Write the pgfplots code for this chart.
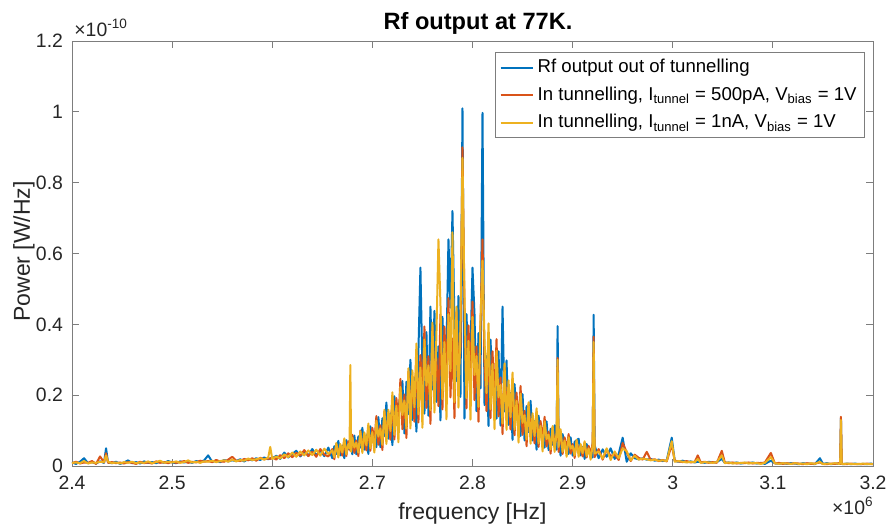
\documentclass[border=0pt]{standalone}
\usepackage{fontspec}
\setmainfont{Liberation Sans}
\usepackage{pgfplots}
\pgfplotsset{compat=1.18}
\usepackage{pgfplotstable}
\definecolor{mcolA}{rgb}{0,0.447,0.741}
\definecolor{mcolB}{rgb}{0.85,0.325,0.098}
\definecolor{mcolC}{rgb}{0.929,0.694,0.125}
\definecolor{axgray}{RGB}{125,125,125}
\definecolor{txt}{RGB}{38,38,38}

\pgfplotstableread{
x b r c
2.400 0.010 0.008 0.009
2.404 0.006 0.012 0.010
2.408 0.012 0.007 0.008
2.412 0.022 0.010 0.014
2.416 0.008 0.009 0.007
2.420 0.011 0.014 0.010
2.424 0.007 0.006 0.009
2.428 0.013 0.027 0.012
2.432 0.009 0.010 0.011
2.434 0.050 0.036 0.030
2.436 0.010 0.009 0.012
2.440 0.008 0.011 0.008
2.444 0.012 0.008 0.010
2.448 0.006 0.010 0.007
2.452 0.010 0.007 0.011
2.456 0.016 0.011 0.009
2.460 0.008 0.009 0.012
2.464 0.011 0.006 0.008
2.468 0.007 0.012 0.010
2.472 0.013 0.008 0.009
2.476 0.009 0.010 0.013
2.480 0.011 0.007 0.008
2.484 0.008 0.013 0.011
2.488 0.012 0.009 0.015
2.492 0.009 0.011 0.009
2.496 0.014 0.008 0.012
2.500 0.010 0.012 0.010
2.504 0.008 0.009 0.013
2.508 0.013 0.011 0.009
2.512 0.010 0.014 0.011
2.516 0.012 0.009 0.016
2.520 0.009 0.012 0.010
2.524 0.014 0.010 0.012
2.528 0.011 0.015 0.009
2.532 0.016 0.012 0.013
2.536 0.030 0.014 0.012
2.540 0.012 0.011 0.015
2.544 0.015 0.017 0.011
2.548 0.011 0.013 0.014
2.552 0.017 0.012 0.016
2.556 0.013 0.018 0.012
2.560 0.016 0.026 0.018
2.564 0.014 0.015 0.013
2.568 0.019 0.014 0.017
2.572 0.013 0.020 0.015
2.576 0.020 0.016 0.021
2.580 0.016 0.022 0.017
2.584 0.022 0.015 0.019
2.588 0.017 0.023 0.022
2.592 0.024 0.019 0.018
2.596 0.019 0.021 0.024
2.598 0.022 0.020 0.054
2.600 0.021 0.025 0.020
2.604 0.029 0.018 0.027
2.608 0.020 0.031 0.021
2.612 0.038 0.022 0.033
2.616 0.024 0.036 0.025
2.620 0.034 0.025 0.038
2.624 0.043 0.037 0.026
2.628 0.027 0.029 0.041
2.632 0.040 0.045 0.030
2.636 0.029 0.028 0.044
2.640 0.048 0.040 0.031
2.644 0.030 0.026 0.046
2.648 0.044 0.048 0.029
2.652 0.028 0.032 0.049
2.656 0.052 0.027 0.034
2.660 0.022 0.048 0.044
2.662 0.056 0.019 0.025
2.664 0.034 0.062 0.065
2.666 0.071 0.040 0.024
2.668 0.030 0.051 0.062
2.670 0.057 0.029 0.038
2.672 0.022 0.074 0.078
2.674 0.073 0.028 0.033
2.676 0.047 0.070 0.062
2.6772 0.050 0.060 0.050
2.678 0.059 0.043 0.285
2.6788 0.055 0.045 0.040
2.680 0.033 0.088 0.080
2.682 0.086 0.037 0.052
2.684 0.033 0.072 0.066
2.686 0.084 0.028 0.038
2.688 0.052 0.100 0.098
2.690 0.108 0.061 0.037
2.692 0.046 0.077 0.095
2.694 0.087 0.044 0.058
2.696 0.034 0.113 0.120
2.698 0.112 0.043 0.050
2.700 0.072 0.108 0.096
2.702 0.092 0.067 0.038
2.704 0.053 0.141 0.128
2.706 0.138 0.060 0.083
2.708 0.053 0.115 0.106
2.710 0.135 0.045 0.060
2.712 0.085 0.154 0.159
2.714 0.179 0.101 0.062
2.716 0.077 0.130 0.159
2.718 0.149 0.074 0.099
2.720 0.059 0.195 0.208
2.722 0.197 0.075 0.088
2.724 0.128 0.192 0.170
2.726 0.163 0.118 0.067
2.728 0.195 0.246 0.223
2.730 0.240 0.104 0.144
2.732 0.092 0.202 0.185
2.734 0.238 0.079 0.106
2.736 0.147 0.267 0.276
2.738 0.300 0.173 0.106
2.740 0.130 0.220 0.270
2.742 0.250 0.125 0.166
2.744 0.097 0.324 0.346
2.746 0.325 0.123 0.146
2.748 0.560 0.313 0.278
2.750 0.264 0.192 0.108
2.752 0.148 0.394 0.357
2.754 0.378 0.164 0.227
2.756 0.142 0.310 0.284
2.758 0.450 0.119 0.158
2.760 0.216 0.392 0.405
2.762 0.438 0.247 0.151
2.764 0.181 0.306 0.375
2.766 0.338 0.169 0.640
2.768 0.129 0.429 0.458
2.770 0.421 0.160 0.189
2.772 0.263 0.394 0.350
2.774 0.323 0.235 0.132
2.776 0.640 0.474 0.429
2.778 0.447 0.194 0.268
2.780 0.720 0.360 0.660
2.782 0.405 0.135 0.180
2.784 0.240 0.435 0.450
2.786 0.480 0.270 0.165
2.788 0.195 0.330 0.405
2.790 1.010 0.900 0.870
2.792 0.134 0.447 0.477
2.794 0.429 0.163 0.192
2.796 0.265 0.397 0.353
2.798 0.321 0.234 0.131
2.800 0.560 0.464 0.421
2.802 0.429 0.186 0.257
2.804 0.155 0.338 0.310
2.806 0.375 0.125 0.167
2.808 0.219 0.397 0.411
2.810 0.997 0.640 0.580
2.812 0.172 0.290 0.356
2.814 0.310 0.155 0.206
2.816 0.113 0.378 0.403
2.818 0.357 0.135 0.160
2.820 0.216 0.324 0.288
2.822 0.255 0.186 0.104
2.824 0.134 0.358 0.325
2.826 0.324 0.140 0.194
2.828 0.114 0.250 0.229
2.830 0.450 0.090 0.120
2.832 0.154 0.280 0.290
2.834 0.298 0.167 0.102
2.836 0.116 0.197 0.242
2.838 0.206 0.103 0.138
2.840 0.074 0.248 0.264
2.842 0.231 0.087 0.103
2.844 0.138 0.207 0.184
2.846 0.162 0.118 0.066
2.848 0.085 0.226 0.204
2.850 0.203 0.088 0.122
2.852 0.072 0.156 0.143
2.854 0.169 0.056 0.075
2.856 0.096 0.174 0.180
2.858 0.184 0.104 0.063
2.860 0.072 0.121 0.149
2.862 0.127 0.064 0.085
2.864 0.046 0.153 0.163
2.866 0.142 0.054 0.064
2.868 0.085 0.127 0.113
2.870 0.099 0.072 0.041
2.872 0.052 0.139 0.126
2.874 0.126 0.055 0.076
2.876 0.045 0.097 0.089
2.878 0.105 0.035 0.047
2.880 0.060 0.109 0.113
2.882 0.115 0.065 0.040
2.884 0.046 0.077 0.095
2.885 0.395 0.305 0.300
2.886 0.080 0.040 0.054
2.888 0.029 0.098 0.104
2.890 0.090 0.034 0.040
2.892 0.054 0.081 0.072
2.894 0.064 0.046 0.026
2.896 0.034 0.090 0.081
2.898 0.081 0.035 0.049
2.900 0.029 0.062 0.057
2.902 0.068 0.023 0.030
2.904 0.073 0.071 0.074
2.906 0.077 0.043 0.026
2.908 0.030 0.051 0.062
2.910 0.054 0.027 0.036
2.912 0.020 0.066 0.070
2.914 0.062 0.024 0.028
2.916 0.038 0.057 0.050
2.918 0.045 0.033 0.018
2.920 0.024 0.064 0.058
2.921 0.427 0.365 0.350
2.922 0.058 0.025 0.035
2.926 0.022 0.048 0.041
2.930 0.047 0.018 0.021
2.934 0.026 0.046 0.050
2.938 0.050 0.028 0.017
2.942 0.020 0.033 0.041
2.946 0.034 0.017 0.022
2.950 0.080 0.065 0.050
2.954 0.012 0.039 0.042
2.958 0.036 0.014 0.016
2.962 0.022 0.032 0.029
2.966 0.019 0.023 0.018
2.970 0.022 0.018 0.021
2.974 0.018 0.040 0.019
2.978 0.020 0.017 0.016
2.982 0.015 0.019 0.018
2.986 0.018 0.014 0.015
2.990 0.014 0.017 0.016
2.994 0.016 0.013 0.014
2.999 0.080 0.060 0.070
3.002 0.014 0.015 0.012
3.006 0.012 0.013 0.014
3.010 0.015 0.011 0.012
3.014 0.011 0.014 0.010
3.018 0.013 0.010 0.012
3.022 0.010 0.012 0.011
3.025 0.012 0.030 0.020
3.028 0.011 0.010 0.009
3.032 0.009 0.012 0.011
3.036 0.012 0.009 0.010
3.040 0.010 0.011 0.009
3.044 0.011 0.009 0.011
3.049 0.020 0.043 0.030
3.052 0.009 0.010 0.008
3.056 0.010 0.008 0.010
3.060 0.008 0.010 0.007
3.064 0.010 0.007 0.009
3.068 0.007 0.009 0.008
3.072 0.009 0.008 0.010
3.076 0.008 0.010 0.007
3.080 0.010 0.007 0.009
3.084 0.007 0.009 0.008
3.088 0.009 0.008 0.006
3.092 0.006 0.010 0.009
3.098 0.015 0.037 0.025
3.102 0.008 0.007 0.008
3.106 0.006 0.009 0.006
3.110 0.008 0.006 0.008
3.114 0.006 0.008 0.007
3.118 0.008 0.006 0.006
3.122 0.007 0.008 0.008
3.126 0.005 0.007 0.006
3.130 0.008 0.005 0.007
3.134 0.006 0.008 0.005
3.138 0.007 0.006 0.008
3.142 0.005 0.007 0.006
3.147 0.022 0.010 0.012
3.150 0.006 0.006 0.005
3.154 0.008 0.005 0.007
3.158 0.005 0.007 0.006
3.162 0.007 0.006 0.008
3.166 0.006 0.008 0.006
3.1672 0.007 0.006 0.007
3.168 0.135 0.139 0.130
3.1688 0.006 0.007 0.006
3.170 0.005 0.006 0.005
3.174 0.007 0.005 0.007
3.178 0.005 0.007 0.005
3.182 0.007 0.005 0.006
3.186 0.005 0.006 0.005
3.190 0.006 0.005 0.007
3.194 0.005 0.007 0.005
3.198 0.007 0.005 0.006
3.200 0.005 0.006 0.005
}\spec

\begin{document}
\begin{tikzpicture}
\path[use as bounding box] (-36pt,-30.5pt) rectangle (410pt,233pt);
\begin{axis}[
  at={(0,0)}, anchor=south west,
  scale only axis, width=400.5pt, height=212.5pt,
  xmin=2.4, xmax=3.2, ymin=0, ymax=1.2,
  xtick={2.4,2.5,2.6,2.7,2.8,2.9,3,3.1,3.2},
  ytick={0,0.2,0.4,0.6,0.8,1,1.2},
  scaled ticks=false,
  tick align=inside,
  major tick length=3.5pt,
  axis line style={axgray, line width=0.45pt},
  every tick/.style={axgray, line width=0.45pt},
  tick label style={font=\fontsize{9.7}{11}\selectfont, text=txt},
  /pgf/number format/assume math mode=true,
  xticklabel style={yshift=-1.5pt},
  yticklabel style={xshift=-1pt},
  xlabel={frequency [Hz]},
  ylabel={Power [W/Hz]},
  label style={font=\fontsize{11.5}{13}\selectfont, text=txt},
  xlabel style={at={(axis description cs:0.5,-0.1247)}, anchor=base},
  ylabel style={at={(axis description cs:-0.06,0.505)}, anchor=center},
  legend cell align=left,
  legend style={at={(rel axis cs:0.990,0.974)}, anchor=north east,
    draw=axgray, line width=0.45pt, fill=white,
    font=\fontsize{9.3}{11}\selectfont, text=black,
    inner xsep=2pt, inner ysep=1.5pt, row sep=1.5pt},
  legend image code/.code={\draw[line width=1pt,#1] (0pt,0pt) -- (16pt,0pt);},
  every axis plot/.append style={line width=1pt, line join=round},
]
\addplot[color=mcolA] table[x=x, y=b]{\spec};
\addlegendentry{Rf output out of tunnelling}
\addplot[color=mcolB] table[x=x, y=r]{\spec};
\addlegendentry{In tunnelling, I\textsubscript{tunnel} = 500pA, V\textsubscript{bias} = 1V}
\addplot[color=mcolC] table[x=x, y=c]{\spec};
\addlegendentry{In tunnelling, I\textsubscript{tunnel} = 1nA, V\textsubscript{bias} = 1V}
\end{axis}
\node[anchor=base, inner sep=0pt, text=black, font=\bfseries\fontsize{11.8}{13}\selectfont] at (203pt,218.5pt) {Rf output at 77K.};
\node[anchor=base west, inner sep=0pt, text=txt, font=\fontsize{9.7}{11}\selectfont] at (1pt,215pt) {×10\textsuperscript{-10}};
\node[anchor=base east, inner sep=0pt, text=txt, font=\fontsize{9.7}{11}\selectfont] at (401pt,-24pt) {×10\textsuperscript{6}};
\end{tikzpicture}
\end{document}
